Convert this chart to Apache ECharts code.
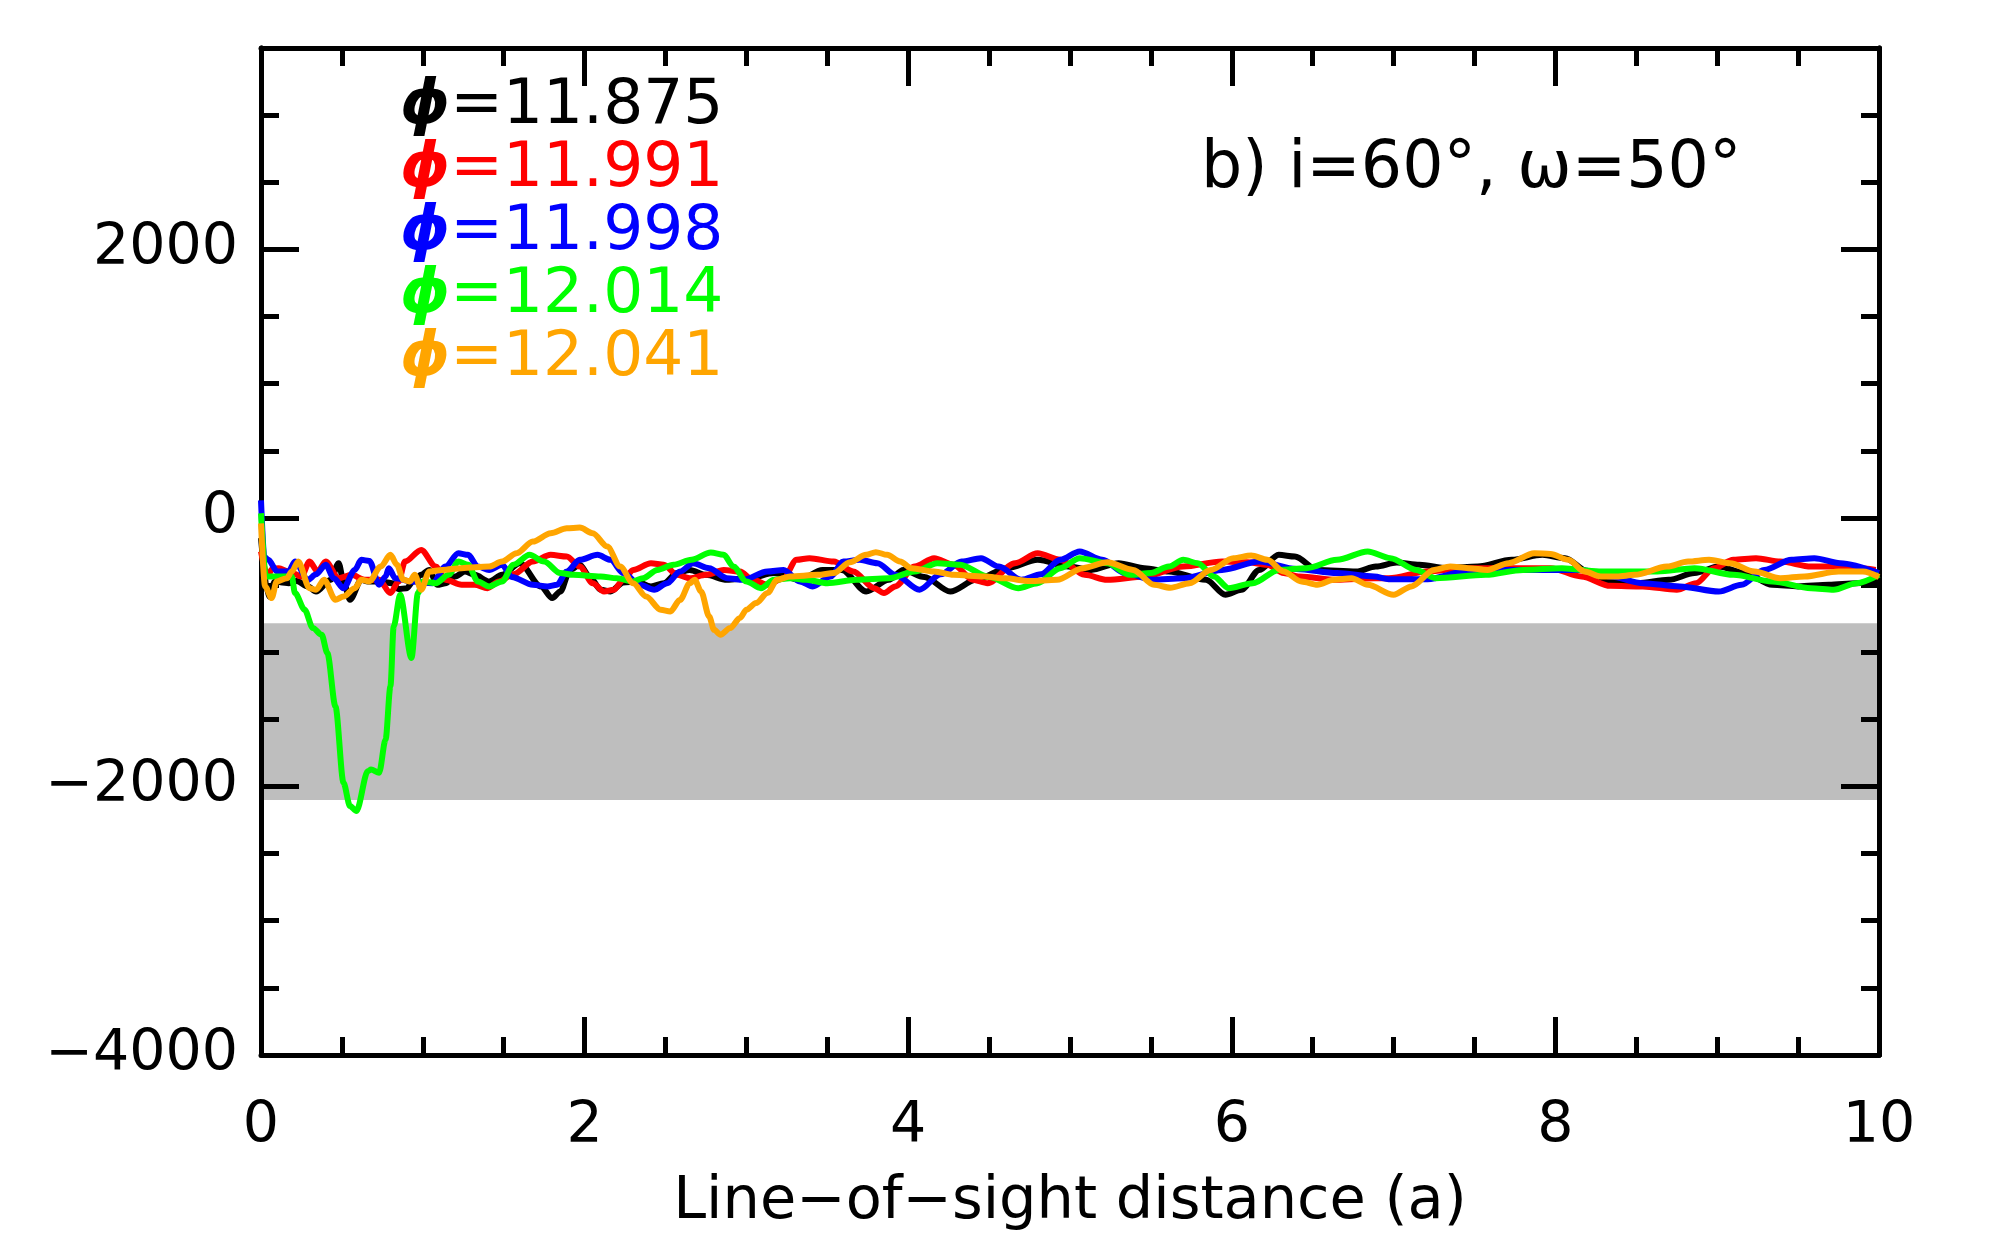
<!DOCTYPE html>
<html>
<head>
<meta charset="utf-8">
<script src="https://cdn.jsdelivr.net/npm/echarts@6/dist/echarts.min.js"></script>
<style>
  html, body { margin: 0; padding: 0; background: #fff; }
  #chart { width: 2000px; height: 1243px; }
</style>
</head>
<body>
<div id="chart"></div>
<script>
// values: [distance (a), value]
const phi11875 = [[0,-150],[0.045,-585],[0.087,-473],[0.13,-480],[0.17,-486],[0.22,-470],[0.29,-510],[0.34,-548],[0.43,-461],[0.48,-337],[0.51,-473],[0.55,-610],[0.62,-461],[0.66,-473],[0.73,-473],[0.81,-486],[0.85,-530],[0.90,-523],[0.94,-473],[0.99,-424],[1.04,-387],[1.09,-498],[1.14,-486],[1.2,-436],[1.26,-399],[1.32,-424],[1.41,-473],[1.49,-424],[1.60,-337],[1.73,-510],[1.80,-597],[1.85,-548],[1.91,-387],[1.97,-349],[2.03,-436],[2.10,-535],[2.16,-548],[2.24,-480],[2.32,-473],[2.41,-510],[2.49,-486],[2.57,-411],[2.65,-387],[2.75,-424],[2.88,-461],[3.02,-449],[3.17,-411],[3.33,-461],[3.47,-387],[3.59,-387],[3.74,-548],[3.88,-461],[3.97,-387],[4.10,-440],[4.26,-548],[4.42,-461],[4.61,-374],[4.80,-312],[4.99,-362],[5.13,-387],[5.30,-337],[5.46,-374],[5.61,-399],[5.84,-461],[5.96,-572],[6.06,-535],[6.17,-387],[6.29,-275],[6.39,-287],[6.53,-387],[6.77,-399],[6.89,-362],[7.02,-332],[7.16,-349],[7.33,-374],[7.52,-362],[7.73,-312],[7.92,-275],[8.06,-300],[8.20,-399],[8.34,-473],[8.51,-486],[8.70,-461],[8.86,-411],[9.01,-362],[9.17,-411],[9.34,-498],[9.50,-510],[9.69,-498],[9.86,-486],[10.0,-461]];
const phi11991 = [[0,-250],[0.04,-430],[0.07,-380],[0.11,-374],[0.17,-399],[0.25,-436],[0.30,-325],[0.35,-399],[0.40,-325],[0.48,-449],[0.56,-424],[0.64,-461],[0.73,-461],[0.80,-560],[0.85,-473],[0.89,-325],[0.99,-238],[1.08,-362],[1.14,-461],[1.24,-498],[1.32,-498],[1.40,-523],[1.47,-473],[1.56,-420],[1.68,-325],[1.79,-275],[1.89,-287],[1.97,-362],[2.05,-486],[2.12,-548],[2.18,-535],[2.24,-461],[2.30,-387],[2.41,-337],[2.49,-349],[2.57,-424],[2.65,-449],[2.75,-424],[2.86,-387],[2.96,-399],[3.04,-461],[3.13,-498],[3.23,-449],[3.31,-312],[3.39,-300],[3.54,-325],[3.66,-399],[3.79,-523],[3.85,-560],[3.92,-510],[4.04,-362],[4.16,-300],[4.28,-349],[4.40,-461],[4.49,-486],[4.66,-337],[4.80,-263],[4.94,-312],[5.09,-424],[5.23,-461],[5.46,-436],[5.70,-362],[5.94,-325],[6.10,-330],[6.22,-349],[6.32,-411],[6.42,-436],[6.65,-461],[6.88,-449],[6.97,-449],[7.21,-399],[7.44,-374],[7.68,-374],[7.97,-374],[8.16,-436],[8.34,-506],[8.54,-510],[8.75,-535],[8.87,-486],[8.98,-374],[9.10,-312],[9.24,-300],[9.39,-325],[9.58,-362],[9.76,-362],[9.98,-387]];
const phi11998 = [[0,130],[0.02,-290],[0.045,-312],[0.10,-399],[0.17,-399],[0.21,-325],[0.29,-461],[0.34,-420],[0.40,-349],[0.45,-449],[0.51,-523],[0.58,-387],[0.62,-312],[0.67,-320],[0.73,-498],[0.77,-436],[0.79,-374],[0.83,-449],[0.93,-473],[1.06,-486],[1.14,-362],[1.22,-263],[1.28,-275],[1.34,-362],[1.41,-387],[1.49,-349],[1.55,-440],[1.68,-498],[1.77,-510],[1.83,-498],[1.89,-399],[1.97,-312],[2.08,-275],[2.16,-312],[2.24,-411],[2.34,-498],[2.43,-535],[2.51,-486],[2.59,-399],[2.67,-337],[2.77,-374],[2.88,-449],[2.98,-461],[3.13,-399],[3.23,-387],[3.33,-473],[3.41,-510],[3.52,-436],[3.60,-325],[3.70,-312],[3.81,-337],[3.92,-424],[4.07,-535],[4.20,-420],[4.33,-325],[4.45,-300],[4.56,-362],[4.70,-461],[4.82,-420],[4.94,-312],[5.06,-250],[5.20,-312],[5.34,-411],[5.51,-461],[5.70,-449],[5.94,-387],[6.17,-325],[6.40,-380],[6.65,-411],[6.88,-436],[6.97,-456],[7.21,-456],[7.44,-399],[7.68,-387],[7.92,-387],[8.16,-387],[8.34,-436],[8.54,-486],[8.77,-510],[9.01,-548],[9.15,-498],[9.29,-387],[9.46,-312],[9.60,-300],[9.76,-337],[10.0,-411]];
const phi12014 = [[0,35],[0.03,-436],[0.19,-436],[0.21,-560],[0.27,-684],[0.32,-820],[0.375,-870],[0.41,-1006],[0.46,-1403],[0.51,-1973],[0.55,-2146],[0.59,-2183],[0.66,-1886],[0.68,-1874],[0.73,-1898],[0.77,-1650],[0.80,-1254],[0.82,-808],[0.86,-572],[0.93,-1043],[0.97,-560],[1.0,-473],[1.08,-486],[1.16,-424],[1.22,-325],[1.28,-349],[1.34,-473],[1.41,-510],[1.49,-473],[1.56,-349],[1.66,-275],[1.75,-325],[1.85,-411],[1.93,-424],[2.10,-436],[2.20,-449],[2.30,-473],[2.36,-449],[2.45,-387],[2.55,-349],[2.66,-312],[2.78,-258],[2.86,-275],[2.92,-362],[3.00,-473],[3.09,-523],[3.17,-461],[3.27,-449],[3.37,-461],[3.50,-486],[3.68,-461],[3.88,-449],[4.04,-399],[4.18,-337],[4.32,-349],[4.50,-440],[4.68,-523],[4.80,-486],[4.94,-374],[5.06,-300],[5.23,-337],[5.37,-424],[5.50,-410],[5.61,-362],[5.70,-312],[5.79,-337],[5.89,-436],[5.98,-523],[6.13,-486],[6.29,-387],[6.46,-374],[6.65,-312],[6.84,-250],[6.98,-300],[7.14,-387],[7.26,-449],[7.57,-424],[7.80,-387],[8.04,-374],[8.27,-399],[8.63,-399],[8.86,-374],[9.10,-424],[9.34,-473],[9.58,-523],[9.72,-535],[9.86,-486],[10.0,-424]];
const phi12041 = [[0,-40],[0.025,-510],[0.066,-597],[0.097,-473],[0.16,-449],[0.19,-399],[0.23,-325],[0.30,-523],[0.34,-535],[0.39,-461],[0.46,-610],[0.51,-585],[0.58,-523],[0.62,-461],[0.67,-473],[0.74,-362],[0.80,-275],[0.84,-349],[0.88,-461],[0.92,-473],[0.95,-424],[0.99,-535],[1.04,-399],[1.12,-387],[1.24,-374],[1.41,-362],[1.49,-325],[1.58,-263],[1.68,-176],[1.79,-114],[1.89,-77],[1.97,-72],[2.05,-114],[2.14,-213],[2.22,-362],[2.30,-486],[2.38,-585],[2.47,-684],[2.53,-696],[2.59,-610],[2.65,-486],[2.68,-461],[2.72,-548],[2.77,-734],[2.80,-833],[2.84,-870],[2.90,-820],[2.96,-746],[3.00,-684],[3.06,-634],[3.13,-560],[3.19,-461],[3.27,-436],[3.44,-424],[3.54,-411],[3.64,-330],[3.74,-275],[3.80,-255],[3.87,-275],[3.95,-325],[4.02,-374],[4.16,-399],[4.28,-424],[4.47,-436],[4.60,-450],[4.75,-470],[4.92,-461],[5.08,-374],[5.23,-330],[5.39,-387],[5.52,-498],[5.62,-520],[5.74,-486],[5.87,-387],[6.01,-300],[6.12,-280],[6.22,-312],[6.32,-399],[6.43,-473],[6.53,-498],[6.63,-461],[6.74,-449],[6.84,-498],[7.00,-572],[7.11,-510],[7.25,-387],[7.35,-362],[7.46,-374],[7.58,-387],[7.71,-337],[7.87,-263],[7.97,-268],[8.08,-312],[8.18,-399],[8.28,-436],[8.38,-436],[8.49,-424],[8.69,-362],[8.82,-325],[8.95,-312],[9.08,-337],[9.23,-399],[9.39,-449],[9.54,-436],[9.75,-399],[9.90,-399],[10.0,-440]];

const seriesNames = ['ϕ=11.875', 'ϕ=11.991', 'ϕ=11.998', 'ϕ=12.014', 'ϕ=12.041'];
const seriesColors = ['#000000', '#ff0000', '#0000ff', '#00ff00', '#ffa500'];
const seriesData = [phi11875, phi11991, phi11998, phi12014, phi12041];
const bandRange = [-2100, -785];   // grey band
const xRange = [0, 10];
const yRange = [-4000, 3500];

const FONT = '"DejaVu Sans", sans-serif';
const chart = echarts.init(document.getElementById('chart'));

// one y axis for the long ticks + labels, one for the short 500 ticks, on each side
const yAxisBase = (pos, interval, len, labels) => ({
  type: 'value',
  position: pos,
  min: yRange[0],
  max: yRange[1],
  interval: interval,
  z: 2,
  splitLine: { show: false },
  axisLine: { show: true, onZero: false, lineStyle: { color: '#000', width: 5 } },
  axisTick: { show: true, inside: true, length: len, lineStyle: { color: '#000', width: 5 } },
  axisLabel: {
    show: labels,
    margin: 23,
    color: '#000',
    fontFamily: FONT,
    fontSize: 57,
    formatter: v => (v % 2000 === 0 ? String(v).replace('-', '\u2212') : '')
  }
});

const xAxisBase = (pos, labels) => ({
  type: 'value',
  position: pos,
  min: xRange[0],
  max: xRange[1],
  interval: 2,
  z: 2,
  splitLine: { show: false },
  axisLine: { show: true, onZero: false, lineStyle: { color: '#000', width: 5 } },
  axisTick: { show: true, inside: true, length: 38, lineStyle: { color: '#000', width: 5 } },
  minorTick: { show: true, splitNumber: 4, length: 18, lineStyle: { color: '#000', width: 5 } },
  minorSplitLine: { show: false },
  axisLabel: { show: labels, margin: 44, color: '#000', fontFamily: FONT, fontSize: 57 },
  name: labels ? 'Line\u2212of\u2212sight distance (a)' : '',
  nameLocation: 'middle',
  nameGap: 118,
  nameTextStyle: { color: '#000', fontFamily: FONT, fontSize: 59 }
});

const option = {
  animation: false,
  backgroundColor: '#fff',
  grid: { left: 261, right: 121, top: 48, bottom: 188 },
  xAxis: [xAxisBase('bottom', true), xAxisBase('top', false)],
  yAxis: [
    yAxisBase('left', 2000, 38, true),
    yAxisBase('left', 500, 18, false),
    yAxisBase('right', 2000, 38, false),
    yAxisBase('right', 500, 18, false)
  ],
  legend: {
    orient: 'vertical',
    left: 390,
    top: 70,
    itemGap: 0,
    itemWidth: 0,
    itemHeight: 0,
    icon: 'rect',
    selectedMode: false,
    formatter: n => '{p|\u03d5}' + n.slice(1),
    textStyle: {
      fontFamily: FONT,
      fontSize: 63,
      lineHeight: 61.5,
      rich: { p: { fontFamily: FONT, fontSize: 63, fontStyle: 'italic', fontWeight: 'bold', lineHeight: 61.5 } }
    },
    data: seriesNames.map((n, i) => ({ name: n, textStyle: { color: seriesColors[i] } }))
  },
  graphic: [{
    type: 'text',
    left: 1201,
    top: 138,
    z: 10,
    style: { text: 'b) i=60°, ω=50°', font: '65px "DejaVu Sans"', fill: '#000' }
  }],
  series: seriesData.map((d, i) => ({
    name: seriesNames[i],
    type: 'line',
    data: d,
    z: 3,
    symbol: 'none',
    smooth: 0.3,
    smoothMonotone: 'x',
    color: seriesColors[i],
    lineStyle: { color: seriesColors[i], width: 6 },
    markArea: i === 0 ? {
      silent: true,
      z: 1,
      itemStyle: { color: '#bebebe', opacity: 1 },
      data: [[{ xAxis: xRange[0], yAxis: bandRange[1] }, { xAxis: xRange[1], yAxis: bandRange[0] }]]
    } : undefined
  }))
};

chart.setOption(option);
</script>
</body>
</html>
